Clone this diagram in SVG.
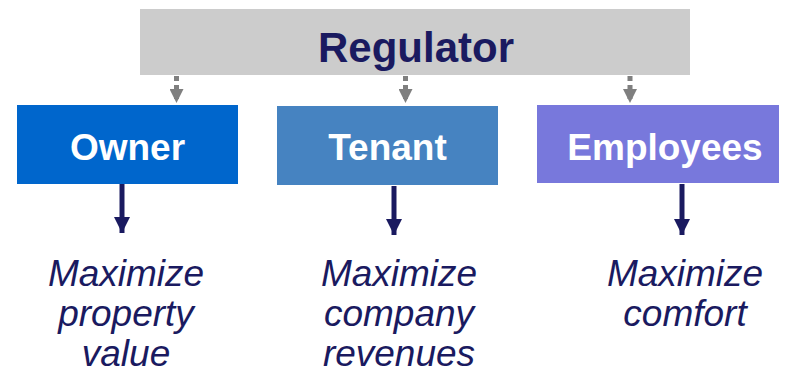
<svg xmlns="http://www.w3.org/2000/svg" width="789" height="375" viewBox="0 0 789 375">
<style>
.lbl{font-family:"Liberation Sans",Arial,sans-serif;font-weight:bold;text-anchor:middle}
.goal{font-family:"Liberation Sans",Arial,sans-serif;font-style:italic;font-size:37px;fill:#1a1a60;text-anchor:middle}
.dash{stroke:#7f7f7f;stroke-width:5;stroke-dasharray:5,4;fill:none}
.solid{stroke:#1a1a60;stroke-width:5;fill:none}
</style>
<defs>
<marker id="gh" viewBox="0 0 10 10" refX="10" refY="5" markerWidth="14" markerHeight="14" markerUnits="userSpaceOnUse" orient="auto"><path d="M0,0 L10,5 L0,10 Z" fill="#7f7f7f"/></marker>
<marker id="nh" viewBox="0 0 10 10" refX="10" refY="5" markerWidth="16" markerHeight="16" markerUnits="userSpaceOnUse" orient="auto"><path d="M0,0 L10,5 L0,10 Z" fill="#1a1a60"/></marker>
</defs>
<rect width="789" height="375" fill="#ffffff"/>
<g id="regulator">
<rect x="140" y="9" width="550" height="66" fill="#cccccc"/>
<text class="lbl" x="416" y="62" font-size="42" fill="#1a1a60">Regulator</text>
</g>
<g id="connectors">
<path class="dash" d="M176.5,76 V103" marker-end="url(#gh)"/>
<path class="dash" d="M405.5,76 V103" marker-end="url(#gh)"/>
<path class="dash" d="M630,76 V103" marker-end="url(#gh)"/>
<path class="solid" d="M122,184 V233" marker-end="url(#nh)"/>
<path class="solid" d="M394,186 V235" marker-end="url(#nh)"/>
<path class="solid" d="M682,184 V235" marker-end="url(#nh)"/>
</g>
<g id="owner">
<rect x="17" y="105" width="221" height="79" fill="#0066cc"/>
<text class="lbl" x="127.5" y="160" font-size="37" fill="#ffffff">Owner</text>
</g>
<g id="tenant">
<rect x="277" y="106" width="221" height="79" fill="#4683c1"/>
<text class="lbl" x="387.5" y="160" font-size="37" fill="#ffffff">Tenant</text>
</g>
<g id="employees">
<rect x="537" y="105" width="242" height="78" fill="#7878dc"/>
<text class="lbl" x="665" y="160" font-size="37" fill="#ffffff">Employees</text>
</g>
<g id="owner-goal">
<text class="goal" x="126" y="286">Maximize</text>
<text class="goal" x="126" y="326">property</text>
<text class="goal" x="126" y="366">value</text>
</g>
<g id="tenant-goal">
<text class="goal" x="399" y="286">Maximize</text>
<text class="goal" x="399" y="326">company</text>
<text class="goal" x="399" y="366">revenues</text>
</g>
<g id="employees-goal">
<text class="goal" x="685" y="286">Maximize</text>
<text class="goal" x="685" y="326">comfort</text>
</g>
</svg>
